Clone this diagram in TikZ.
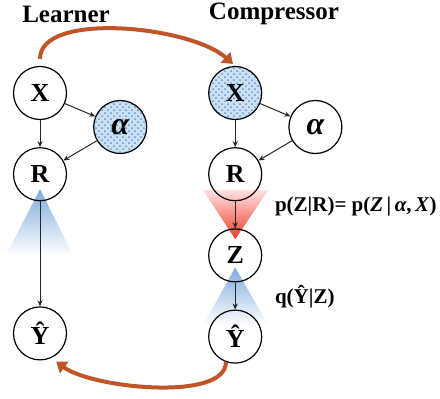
\documentclass[tikz,border=0pt]{standalone}
\usepackage{fontspec}
\setmainfont{Liberation Serif}
\usetikzlibrary{arrows.meta,positioning,calc,patterns,backgrounds}
\definecolor{arcbrown}{RGB}{192,86,40}
\definecolor{hatchblue}{RGB}{95,150,215}
\definecolor{hatchbg}{RGB}{205,225,245}
\definecolor{fadeblue}{RGB}{125,172,220}
\definecolor{fadered}{RGB}{236,62,38}

\begin{document}
\begin{tikzpicture}[x=0.5pt, y=-0.5pt,
  var/.style={draw, circle, line width=0.6pt, minimum size=26.5pt, inner sep=0pt,
              font=\fontsize{13}{15}\selectfont\bfseries},
  obs/.style={var, preaction={fill=hatchbg}, pattern=crosshatch dots, pattern color=hatchblue},
  greek/.style={font=\fontsize{16}{18}\selectfont\bfseries\itshape},
  title/.style={font=\fontsize{12.5}{14}\selectfont\bfseries},
  lbl/.style={anchor=west, font=\fontsize{10.5}{12}\selectfont\bfseries},
  edge/.style={->, black!85, line width=0.5pt},
  loop/.style={line width=2pt, arcbrown, -{Triangle[length=5pt,width=7pt]}},
  >={Stealth[length=3pt,width=2.6pt]}, node distance=13.5pt]
  \useasboundingbox (0,0) rectangle (440,398);
  % learner
  \node[title] (learn) at (66,14) {Learner};
  \node[var] (lX) at (40,93) {X};
  \node[obs, greek, right=13pt of lX, yshift=-17pt] (lA) {α};
  \node[var, below=of lX] (lR) {R};
  \node[var, below=52.5pt of lR] (lY) {Ŷ};
  % compressor
  \node[title] (comp) at (274,14) {Compressor};
  \node[obs, right=70.5pt of lX] (rX) {X};
  \node[var, greek, right=13pt of rX, yshift=-17pt] (rA) {α};
  \node[var, below=of rX] (rR) {R};
  \node[var, below=of rR] (rZ) {Z};
  \node[var, below=of rZ] (rY) {Ŷ};
  \node[lbl] (pz) at (268,206) {p(Z|R)= p(\textit{Z}\,|\,\textit{α},\,\textit{X})};
  \node[lbl] (qy) at (268,297) {q(Ŷ|Z)};
  % shaded cones
  \begin{scope}[on background layer]
    \shade[top color=fadeblue, bottom color=white]
      ($(lR)+(0,15)$) -- ($(lR)+(-34,81)$) -- ($(lR)+(33,81)$) -- cycle;
    \shade[top color=red!12, bottom color=fadered]
      ($(rR)+(-32,16)$) -- ($(rR)+(33,16)$) -- ($(rR)+(0,65)$) -- cycle;
    \shade[top color=fadeblue, bottom color=white]
      ($(rZ)+(0,12)$) -- ($(rZ)+(-32,70)$) -- ($(rZ)+(33,70)$) -- cycle;
  \end{scope}
  \draw[edge] (lX) -- (lR);
  \draw[edge] (lX) -- (lA);
  \draw[edge] (lA) -- (lR);
  \draw[edge] (lR) -- (lY);
  \draw[edge] (rX) -- (rR);
  \draw[edge] (rX) -- (rA);
  \draw[edge] (rA) -- (rR);
  \draw[edge] (rR) -- (rZ);
  \draw[edge] (rZ) -- (rY);
  % hand-over arcs
  \draw[loop, shorten <=3.5pt, shorten >=1.5pt]
    (lX.north) .. controls +(0,-55) and +(-45,-40) .. (rX.north);
  \draw[loop, shorten >=3pt]
    (rY.-110) .. controls +(0,40) and +(40,30) .. (lY.-65);
\end{tikzpicture}
\end{document}
